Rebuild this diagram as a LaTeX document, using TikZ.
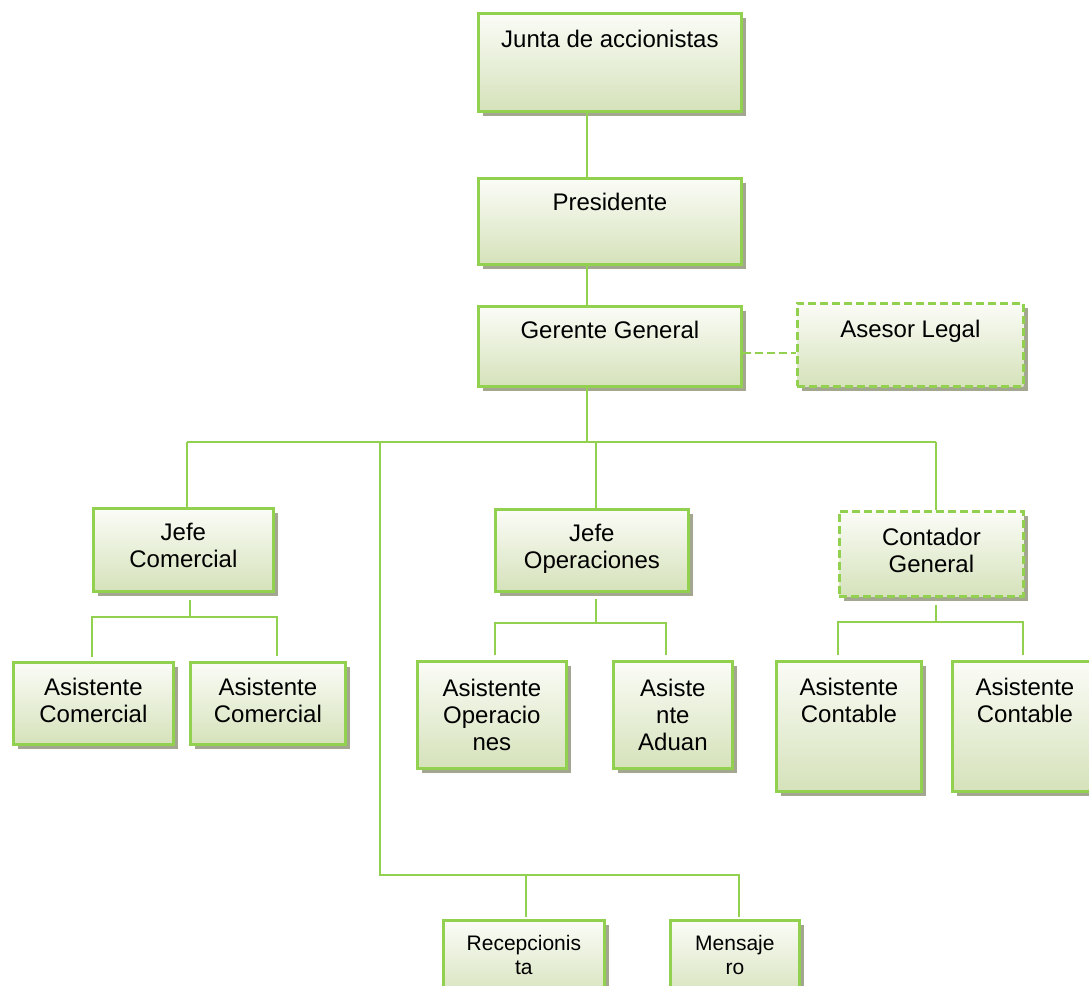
\documentclass[tikz,border=0pt]{standalone}
\usepackage{fontspec}
\setmainfont{Liberation Sans}
\usetikzlibrary{shadows}
\definecolor{grn}{HTML}{92D050}
\definecolor{gtop}{HTML}{FBFCF7}
\definecolor{gbot}{HTML}{D5E2BA}
\definecolor{shd}{HTML}{A3A78F}
\begin{document}
\begin{tikzpicture}[x=1pt,y=-1pt,
  box/.style={draw=grn, line width=2.8pt, top color=gtop, bottom color=gbot,
    inner sep=0pt, anchor=north west,
    drop shadow={shadow xshift=4.5pt, shadow yshift=-4.5pt, fill=shd, opacity=1}},
  dbox/.style={box, dash pattern=on 8pt off 4pt},
  txt/.style={inner sep=0pt, align=center, anchor=north, text=black,
    font=\fontsize{24pt}{27pt}\selectfont},
  stxt/.style={txt, font=\fontsize{21pt}{24pt}\selectfont},
  conn/.style={draw=grn, line width=2.6pt},
  dconn/.style={conn, dash pattern=on 8pt off 4pt}]
\useasboundingbox (0,0) rectangle (1089,985);
\clip (0,0) rectangle (1089,985);

% boxes
\node[box, minimum width=263pt, minimum height=98pt] (jun) at (477,12) {};
\node[box, minimum width=263pt, minimum height=86pt] (pre) at (477,177) {};
\node[box, minimum width=263pt, minimum height=80pt] (ger) at (477,305) {};
\node[dbox, minimum width=226pt, minimum height=83pt] (ase) at (796,302) {};
\node[box, minimum width=180pt, minimum height=83pt] (jc) at (92,507) {};
\node[box, minimum width=193pt, minimum height=82pt] (jo) at (494,508) {};
\node[dbox, minimum width=184pt, minimum height=85pt] (cg) at (838,510) {};
\node[box, minimum width=160pt, minimum height=82pt] (ac1) at (12,661) {};
\node[box, minimum width=155pt, minimum height=82pt] (ac2) at (189,661) {};
\node[box, minimum width=149pt, minimum height=107pt] (ao) at (416,660) {};
\node[box, minimum width=119pt, minimum height=107pt] (aa) at (612,660) {};
\node[box, minimum width=145pt, minimum height=130pt] (at1) at (775,660) {};
\node[box, minimum width=145pt, minimum height=130pt] (at2) at (951,660) {};
\node[box, minimum width=161pt, minimum height=80pt] (rec) at (442,919) {};
\node[box, minimum width=129pt, minimum height=80pt] (men) at (669,919) {};

% texts
\node[txt] (junT) at (jun.north |- 0,30) {Junta de accionistas};
\node[txt] (preT) at (pre.north |- 0,193) {Presidente};
\node[txt] (gerT) at (ger.north |- 0,321) {Gerente General};
\node[txt] (aseT) at (ase.north |- 0,320) {Asesor Legal};
\node[txt] (jcT) at (jc.north |- 0,523) {Jefe\\Comercial};
\node[txt] (joT) at (jo.north |- 0,524) {Jefe\\Operaciones};
\node[txt] (cgT) at (cg.north |- 0,528) {Contador\\General};
\node[txt] (ac1T) at (ac1.north |- 0,678) {Asistente\\Comercial};
\node[txt] (ac2T) at (ac2.north |- 0,678) {Asistente\\Comercial};
\node[txt] (aoT) at (ao.north |- 0,679) {Asistente\\Operacio\\nes};
\node[txt] (aaT) at (aa.north |- 0,679) {Asiste\\nte\\Aduan};
\node[txt] (at1T) at (at1.north |- 0,678) {Asistente\\Contable};
\node[txt] (at2T) at (at2.north |- 0,678) {Asistente\\Contable};
\node[stxt] (recT) at (rec.north |- 0,935) {Recepcionis\\ta};
\node[stxt] (menT) at (men.north |- 0,935) {Mensaje\\ro};

% main spine
\coordinate (xg) at (587,442);
\draw[conn] (jun.south -| xg) -- (pre.north -| xg);
\draw[conn] (pre.south -| xg) -- (ger.north -| xg);
\draw[conn] (ger.south -| xg) -- (xg);
% advisor
\coordinate (dy) at (0,353);
\draw[dconn] (ger.east |- dy) -- (ase.west |- dy);
% bus
\coordinate (bL) at (187,442);
\coordinate (bR) at (936,442);
\coordinate (bO) at (596,442);
\coordinate (bM) at (380,442);
\draw[conn] (bL) -- (bR);
\draw[conn] (bL) -- (jc.north -| bL);
\draw[conn] (bO) -- (jo.north -| bO);
\draw[conn] (bR) -- (cg.north -| bR);
% lower branch
\coordinate (bMd) at (380,875);
\coordinate (bMr) at (739,875);
\coordinate (bMc) at (526,875);
\draw[conn, shorten >=2pt] (bM) -- (bMd) -- (bMr) -- (men.north -| bMr);
\draw[conn, shorten >=2pt] (bMc) -- (rec.north -| bMc);
% Jefe Comercial branch
\coordinate (jcx) at (190,617);
\coordinate (jcL) at (92,617);
\coordinate (jcR) at (277,617);
\draw[conn, shorten <=7pt] (jc.south -| jcx) -- (jcx);
\draw[conn, shorten <=4pt, shorten >=5pt] (ac1.north -| jcL) -- (jcL) -- (jcR) -- (ac2.north -| jcR);
% Jefe Operaciones branch
\coordinate (jox) at (596,623);
\coordinate (joL) at (495,623);
\coordinate (joR) at (666,623);
\draw[conn, shorten <=6pt] (jo.south -| jox) -- (jox);
\draw[conn, shorten <=5pt, shorten >=5pt] (ao.north -| joL) -- (joL) -- (joR) -- (aa.north -| joR);
% Contador branch
\coordinate (cgx) at (936,622);
\coordinate (cgL) at (838,622);
\coordinate (cgR) at (1023,622);
\draw[conn, shorten <=7pt] (cg.south -| cgx) -- (cgx);
\draw[conn, shorten <=5pt, shorten >=5pt] (at1.north -| cgL) -- (cgL) -- (cgR) -- (at2.north -| cgR);
\end{tikzpicture}
\end{document}
